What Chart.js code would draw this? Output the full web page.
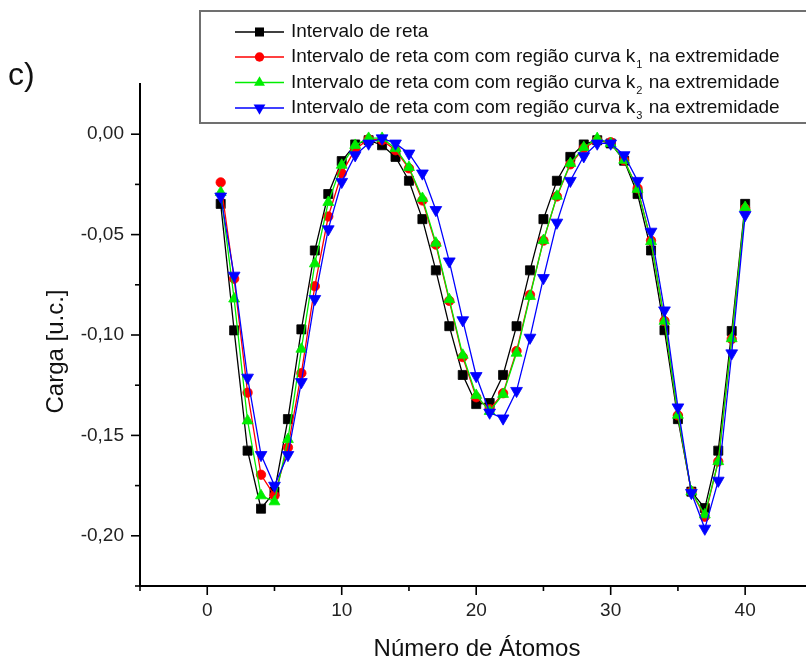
<!DOCTYPE html>
<html>
<head>
<meta charset="utf-8">
<script src="https://cdn.jsdelivr.net/npm/chart.js@4.4.0/dist/chart.umd.min.js"></script>
<style>
html,body{margin:0;padding:0;background:#fff;overflow:hidden}
#wrap{position:relative;width:806px;height:660px;overflow:hidden;background:#fff}
canvas{display:block}
</style>
</head>
<body>
<div id="wrap"><canvas id="c" width="820" height="660"></canvas></div>
<script>
// ---- data ----
const atomos = [1,2,3,4,5,6,7,8,9,10,11,12,13,14,15,16,17,18,19,20,21,22,23,24,25,26,27,28,29,30,31,32,33,34,35,36,37,38,39,40];
const retaSerie = [-0.0347,-0.0977,-0.1576,-0.1865,-0.1780,-0.1419,-0.0972,-0.0579,-0.0298,-0.0134,-0.0051,-0.0030,-0.0055,-0.0113,-0.0232,-0.0423,-0.0678,-0.0956,-0.1199,-0.1344,-0.1339,-0.1199,-0.0956,-0.0678,-0.0423,-0.0232,-0.0113,-0.0051,-0.0030,-0.0046,-0.0132,-0.0298,-0.0579,-0.0976,-0.1419,-0.1780,-0.1862,-0.1576,-0.0980,-0.0347];
const k1Serie = [-0.0240,-0.0720,-0.1287,-0.1696,-0.1800,-0.1560,-0.1190,-0.0757,-0.0410,-0.0195,-0.0075,-0.0025,-0.0030,-0.0080,-0.0170,-0.0330,-0.0550,-0.0830,-0.1110,-0.1310,-0.1370,-0.1290,-0.1080,-0.0800,-0.0530,-0.0310,-0.0150,-0.0070,-0.0030,-0.0040,-0.0130,-0.0270,-0.0530,-0.0930,-0.1400,-0.1780,-0.1905,-0.1630,-0.1020,-0.0370];
const k2Serie = [-0.0290,-0.0820,-0.1427,-0.1800,-0.1830,-0.1520,-0.1070,-0.0645,-0.0339,-0.0154,-0.0055,-0.0020,-0.0020,-0.0071,-0.0165,-0.0319,-0.0542,-0.0823,-0.1100,-0.1300,-0.1380,-0.1295,-0.1090,-0.0807,-0.0529,-0.0308,-0.0145,-0.0066,-0.0021,-0.0046,-0.0129,-0.0274,-0.0534,-0.0931,-0.1399,-0.1780,-0.1895,-0.1630,-0.1018,-0.0364];
const k3Serie = [-0.0310,-0.0704,-0.1212,-0.1597,-0.1750,-0.1597,-0.1234,-0.0820,-0.0473,-0.0237,-0.0104,-0.0046,-0.0020,-0.0046,-0.0096,-0.0195,-0.0377,-0.0633,-0.0926,-0.1204,-0.1386,-0.1415,-0.1278,-0.1013,-0.0716,-0.0440,-0.0232,-0.0109,-0.0046,-0.0046,-0.0104,-0.0232,-0.0485,-0.0877,-0.1360,-0.1786,-0.1964,-0.1725,-0.1091,-0.0402];
const xTickLabels = [0,10,20,30,40];
const yTickLabels = [0,-0.05,-0.10,-0.15,-0.20];
const legendMain = ['Intervalo de reta','Intervalo de reta com com região curva k','Intervalo de reta com com região curva k','Intervalo de reta com com região curva k'];
const legendSub = ['','1','2','3'];
const legendTail = ['',' na extremidade',' na extremidade',' na extremidade'];
const xTitle = 'Número de Átomos';
const yTitle = 'Carga [u.c.]';
const panelLabel = 'c)';

// ---- styling ----
const FONT = '"Liberation Sans", Arial, sans-serif';
const styles = [
  {color:'#000000', pointStyle:'rect', radius:6.4, rotation:0, order:4},
  {color:'#ff0000', pointStyle:'circle', radius:4.7, rotation:0, order:3},
  {color:'#00ee00', pointStyle:'triangle', radius:6.3, rotation:0, order:2},
  {color:'#0000ff', pointStyle:'triangle', radius:6.8, rotation:180, order:1}
];
const seriesValues = [retaSerie, k1Serie, k2Serie, k3Serie];

const datasets = seriesValues.map((vals, i) => ({
  label: legendMain[i] + legendSub[i] + legendTail[i],
  data: atomos.map((x, j) => ({x: x, y: vals[j]})),
  borderColor: styles[i].color,
  backgroundColor: styles[i].color,
  pointBackgroundColor: styles[i].color,
  pointBorderColor: styles[i].color,
  pointBorderWidth: 0.8,
  borderWidth: 1.3,
  pointStyle: styles[i].pointStyle,
  pointRadius: styles[i].radius,
  pointHoverRadius: styles[i].radius,
  pointRotation: styles[i].rotation,
  tension: 0,
  order: styles[i].order
}));

function near(a, b){ return Math.abs(a-b) < 1e-7; }

function drawMarker(ctx, st, x, y){
  ctx.save();
  ctx.fillStyle = st.color;
  ctx.beginPath();
  const r = st.radius;
  if (st.pointStyle === 'rect') {
    const s = r*Math.SQRT1_2;
    ctx.rect(x-s, y-s, 2*s, 2*s);
  } else if (st.pointStyle === 'circle') {
    ctx.arc(x, y, r, 0, Math.PI*2);
  } else {
    const rot = st.rotation*Math.PI/180;
    for (let k=0;k<3;k++){
      const a = rot + k*2*Math.PI/3;
      const px = x + Math.sin(a)*r, py = y - Math.cos(a)*r;
      if (k===0) ctx.moveTo(px,py); else ctx.lineTo(px,py);
    }
    ctx.closePath();
  }
  ctx.fill();
  ctx.restore();
}

const decor = {
  id: 'decor',
  afterDraw(chart){
    const ctx = chart.ctx;
    const xs = chart.scales.x, ys = chart.scales.y, ca = chart.chartArea;
    ctx.save();
    // tick marks
    ctx.strokeStyle = '#000';
    ctx.lineWidth = 1.6;
    xs.ticks.forEach(t => {
      const px = xs.getPixelForValue(t.value);
      const major = xTickLabels.some(v => near(v, t.value));
      const len = major ? 9 : 5;
      ctx.beginPath(); ctx.moveTo(px, ca.bottom); ctx.lineTo(px, ca.bottom + len); ctx.stroke();
    });
    ys.ticks.forEach(t => {
      if (t.value > 0.02) return;
      const py = ys.getPixelForValue(t.value);
      const major = yTickLabels.some(v => near(v, t.value));
      const len = major ? 9 : 5;
      ctx.beginPath(); ctx.moveTo(ca.left, py); ctx.lineTo(ca.left - len, py); ctx.stroke();
    });
    // axis titles and panel label
    ctx.fillStyle = '#111';
    ctx.font = '24px ' + FONT;
    ctx.textAlign = 'center';
    ctx.textBaseline = 'alphabetic';
    ctx.fillText(xTitle, 477, 656);
    ctx.save();
    ctx.translate(63, 351.5);
    ctx.rotate(-Math.PI/2);
    ctx.fillText(yTitle, 0, 0);
    ctx.restore();
    ctx.textAlign = 'left';
    ctx.font = '32px ' + FONT;
    ctx.fillText(panelLabel, 8, 85);
    // legend box
    ctx.fillStyle = '#fff';
    ctx.fillRect(200, 11, 640, 112);
    ctx.strokeStyle = '#707070';
    ctx.lineWidth = 2;
    ctx.strokeRect(200, 11, 640, 112);
    const rows = [32, 57, 82.5, 108];
    rows.forEach((ry, i) => {
      const st = styles[i];
      ctx.strokeStyle = st.color;
      ctx.lineWidth = 1.3;
      ctx.beginPath(); ctx.moveTo(235, ry); ctx.lineTo(284, ry); ctx.stroke();
      drawMarker(ctx, st, 259.5, ry);
      ctx.fillStyle = '#111';
      ctx.textAlign = 'left';
      ctx.textBaseline = 'middle';
      ctx.font = '19px ' + FONT;
      let tx = 291;
      ctx.fillText(legendMain[i], tx, ry);
      tx += ctx.measureText(legendMain[i]).width;
      if (legendSub[i]) {
        ctx.font = '11px ' + FONT;
        ctx.fillText(legendSub[i], tx + 1, ry + 8);
        tx += ctx.measureText(legendSub[i]).width + 2;
        ctx.font = '19px ' + FONT;
        ctx.fillText(legendTail[i], tx, ry);
      }
    });
    ctx.restore();
  }
};

new Chart(document.getElementById('c'), {
  type: 'line',
  data: { datasets: datasets },
  options: {
    responsive: false,
    animation: false,
    events: [],
    layout: { padding: { top: 84, left: 0, right: 5, bottom: 0 } },
    plugins: { legend: { display: false }, tooltip: { enabled: false } },
    scales: {
      x: {
        type: 'linear',
        min: -5, max: 45,
        afterFit(scale){ scale.height = 74; },
        border: { display: true, color: '#000', width: 2 },
        grid: { display: true, drawOnChartArea: false, drawTicks: true, tickLength: 9, tickColor: 'rgba(0,0,0,0)' },
        ticks: {
          stepSize: 5, autoSkip: false, maxRotation: 0, padding: 4,
          color: '#222', font: { family: FONT, size: 19 },
          callback: (v) => xTickLabels.some(t => near(t, v)) ? String(Math.round(v)) : ''
        }
      },
      y: {
        type: 'linear',
        min: -0.225, max: 0.025,
        afterFit(scale){ scale.width = 140; },
        border: { display: true, color: '#000', width: 2 },
        grid: { display: true, drawOnChartArea: false, drawTicks: true, tickLength: 9, tickColor: 'rgba(0,0,0,0)' },
        ticks: {
          stepSize: 0.025, autoSkip: false, padding: 7,
          color: '#222', font: { family: FONT, size: 19 },
          callback: (v) => {
            const t = yTickLabels.find(t => near(t, v));
            if (t === undefined) return '';
            return (t === 0 ? '0.00' : t.toFixed(2)).replace('.', ',');
          }
        }
      }
    }
  },
  plugins: [decor]
});
</script>
</body>
</html>
